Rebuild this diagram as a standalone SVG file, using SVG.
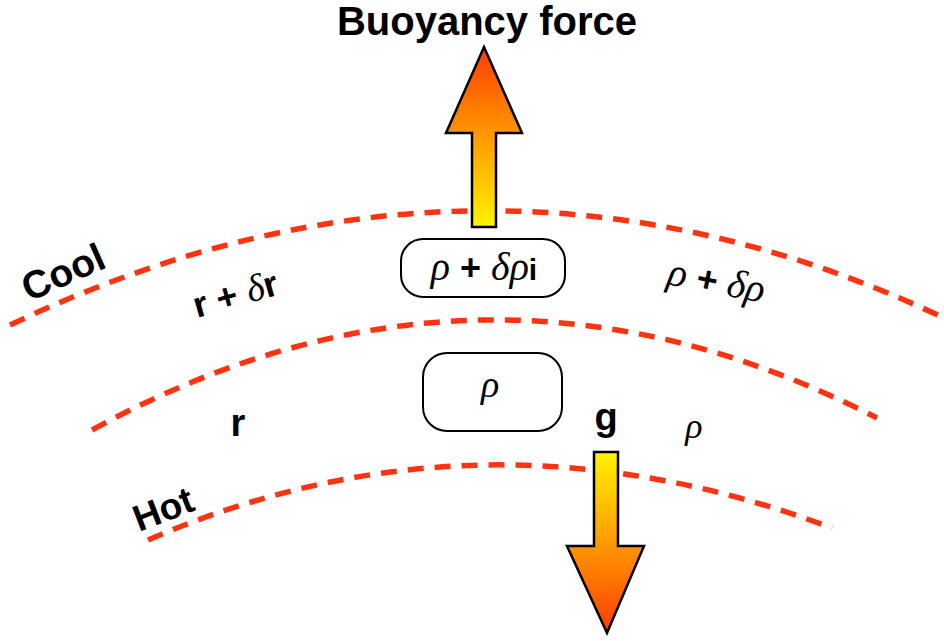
<svg xmlns="http://www.w3.org/2000/svg" width="944" height="641" viewBox="0 0 944 641">
<style>
.layer{fill:none;stroke:#ff3311;stroke-width:5.5;stroke-dasharray:16 11}
.box{fill:#fff;stroke:#000;stroke-width:2}
.arrow{stroke:#000;stroke-width:2.5;stroke-linejoin:miter}
.b{font-family:"Liberation Sans",Arial,sans-serif;font-weight:bold;fill:#000}
.g{font-family:"Liberation Serif","Times New Roman",serif;font-style:italic;fill:#000}
</style>
<defs>
<linearGradient id="gUp" x1="0" y1="0" x2="0" y2="1">
<stop offset="0" stop-color="#ff3c00"/>
<stop offset="0.5" stop-color="#ff9a00"/>
<stop offset="1" stop-color="#fff400"/>
</linearGradient>
<linearGradient id="gDown" x1="0" y1="0" x2="0" y2="1">
<stop offset="0" stop-color="#fff400"/>
<stop offset="0.5" stop-color="#ff9a00"/>
<stop offset="1" stop-color="#ff3c00"/>
</linearGradient>
</defs>
<rect width="944" height="641" fill="#fff"/>
<g id="connectors">
<path class="layer" d="M10,325 Q483,100 944,318"/>
<path class="layer" d="M92,430 Q483,216 877,418"/>
<path class="layer" d="M148,540 Q480,396 832,528"/>
</g>
<g id="buoyancy">
<path class="arrow" fill="url(#gUp)" d="M484,47 L522,133 L496,133 L496,227 L472,227 L472,133 L446,133 Z"/>
<text class="b" x="487" y="35" font-size="40" text-anchor="middle">Buoyancy force</text>
</g>
<g id="gravity">
<path class="arrow" fill="url(#gDown)" d="M594,452 L618,452 L618,546 L644,546 L607,633 L567,546 L594,546 Z"/>
<text class="b" x="606" y="430" font-size="38" text-anchor="middle">g</text>
</g>
<g id="parcel-top">
<rect class="box" x="401" y="239" width="164" height="58" rx="22"/>
<text x="484" y="280" text-anchor="middle" font-size="36"><tspan class="g" font-size="40">ρ</tspan><tspan class="b"> + </tspan><tspan class="g" font-size="40">δρ</tspan><tspan class="b" font-size="30">i</tspan></text>
</g>
<g id="parcel-bottom">
<rect class="box" x="423" y="353" width="139" height="78" rx="24"/>
<text class="g" x="490" y="397" font-size="38" text-anchor="middle">ρ</text>
</g>
<g id="labels">
<text class="b" font-size="39" transform="translate(29,302) rotate(-24)">Cool</text>
<text class="b" font-size="37" transform="translate(139,532) rotate(-21)">Hot</text>
<text font-size="36" transform="translate(197,318) rotate(-16)"><tspan class="b">r + </tspan><tspan class="g" font-size="38">δ</tspan><tspan class="b">r</tspan></text>
<text font-size="36" transform="translate(666,284) rotate(11)"><tspan class="g" font-size="40">ρ</tspan><tspan class="b"> + </tspan><tspan class="g" font-size="40">δρ</tspan></text>
<text class="b" x="238" y="436" font-size="38" text-anchor="middle">r</text>
<text class="g" x="694" y="438" font-size="36" text-anchor="middle">ρ</text>
</g>
</svg>
